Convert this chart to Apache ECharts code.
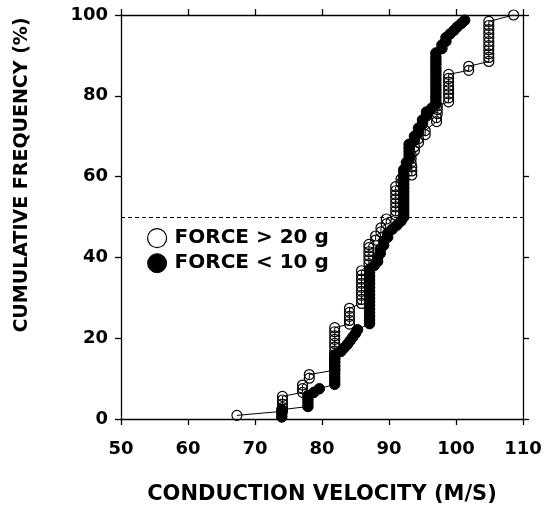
<!DOCTYPE html>
<html>
<head>
<meta charset="utf-8">
<script src="https://cdn.jsdelivr.net/npm/echarts@6/dist/echarts.min.js"></script>
<style>
html,body{margin:0;padding:0;background:#fff;}
#chart{width:548px;height:510px;}
</style>
</head>
<body>
<div id="chart"></div>
<script>
// ---- data ----
const seriesNames = ['FORCE > 20 g', 'FORCE < 10 g'];
const xAxisTitle = 'CONDUCTION VELOCITY (M/S)';
const yAxisTitle = 'CUMULATIVE FREQUENCY (%)';
const medianLine = 50;

// FORCE > 20 g (open circles): conduction velocity (m/s)
const openX = [
  67.3,
  74.1,74.1,74.1,74.1,74.1,
  77.1,77.1,77.1,
  78.1,78.1,
  81.9,81.9,81.9,81.9,81.9,81.9,81.9,81.9,81.9,81.9,81.9,81.9,
  84.1,84.1,84.1,84.1,84.1,
  85.9,85.9,85.9,85.9,85.9,85.9,85.9,85.9,85.9,
  87.0,87.0,87.0,87.0,87.0,87.0,
  88.0,88.0,
  88.8,88.8,
  89.6,89.6,
  91.0,91.0,91.0,91.0,91.0,91.0,91.0,91.0,
  91.8,91.8,
  93.4,93.4,93.4,
  93.3,93.3,93.3,
  93.8,93.8,
  94.4,94.4,
  95.4,95.4,
  97.1,97.1,
  97.2,97.2,97.2,
  98.9,98.9,98.9,98.9,98.9,98.9,98.9,98.9,
  101.9,101.9,
  104.9,104.9,104.9,104.9,104.9,104.9,104.9,104.9,104.9,104.9,104.9,
  108.6
];
// FORCE > 20 g: cumulative frequency (%)
const openY = [
  0.9,
  1.9,2.8,3.7,4.7,5.6,
  6.6,7.5,8.4,
  10.1,11.0,
  12.1,13.0,14.0,14.9,15.9,16.8,17.8,18.7,19.7,20.6,21.6,22.6,
  23.5,24.4,25.4,26.4,27.4,
  28.6,29.6,30.6,31.6,32.6,33.6,34.6,35.6,36.7,
  38.4,39.4,40.4,41.4,42.4,43.2,
  44.3,45.3,
  46.3,47.3,
  48.3,49.5,
  50.5,51.5,52.5,53.5,54.5,55.5,56.5,57.5,
  58.4,59.4,
  60.4,61.4,62.4,
  63.4,64.4,65.4,
  66.4,67.4,
  68.4,69.4,
  70.4,71.4,
  73.6,74.6,
  75.6,76.6,77.5,
  78.5,79.5,80.5,81.5,82.4,83.4,84.3,85.3,
  86.3,87.3,
  88.5,89.5,90.4,91.4,92.4,93.4,94.4,95.4,96.4,97.4,98.4,
  100
];

// FORCE < 10 g (filled circles): conduction velocity (m/s)
const filledX = [
  74.0,74.0,74.0,
  77.9,77.9,77.9,77.9,
  78.8,
  79.6,
  81.9,81.9,81.9,81.9,81.9,81.9,81.9,81.9,81.9,
  82.8,83.3,83.8,84.2,84.6,85.0,85.3,
  87.1,87.1,87.1,87.1,87.1,87.1,87.1,87.1,87.1,87.1,87.1,87.1,87.1,87.1,87.1,87.1,
  87.8,
  88.3,88.3,
  88.7,88.7,
  89.2,89.2,
  89.8,89.8,
  90.5,
  91.2,
  91.8,
  92.2,92.2,92.2,92.2,92.2,92.2,92.2,92.2,92.2,92.2,92.2,92.2,92.2,92.2,
  92.6,92.6,
  93.0,93.0,93.0,93.0,93.0,
  93.8,93.8,
  94.4,94.4,
  95.0,95.0,
  95.6,95.6,
  96.4,
  97.0,97.0,97.0,97.0,97.0,97.0,97.0,97.0,97.0,97.0,97.0,97.0,97.0,97.0,97.0,
  97.9,97.9,
  98.5,98.5,
  99.1,
  99.7,
  100.2,
  100.8,
  101.3
];
// FORCE < 10 g: cumulative frequency (%)
const filledY = [
  0.5,1.4,2.3,
  3.1,4.0,4.9,5.8,
  6.6,
  7.5,
  8.6,9.5,10.4,11.3,12.2,13.1,14.0,14.9,15.8,
  16.7,17.6,18.5,19.4,20.3,21.2,22.1,
  23.6,24.5,25.4,26.3,27.2,28.1,29.0,29.9,30.8,31.7,32.6,33.5,34.4,35.3,36.2,37.1,
  38.0,
  39.0,40.0,
  41.0,42.0,
  43.0,44.0,
  45.0,46.0,
  47.0,
  48.0,
  49.0,
  50.0,50.9,51.8,52.7,53.6,54.5,55.4,56.3,57.2,58.1,59.0,59.9,60.8,61.7,
  62.6,63.5,
  64.4,65.3,66.2,67.1,68.0,
  69.0,70.0,
  71.0,72.0,
  73.0,74.0,
  75.0,76.0,
  77.0,
  77.9,78.8,79.7,80.6,81.5,82.4,83.3,84.2,85.1,86.0,86.9,87.8,88.7,89.6,90.6,
  91.7,92.6,
  93.5,94.4,
  95.3,
  96.2,
  97.1,
  97.9,
  98.7
];

// ---- chart ----
const zip = (xs, ys) => xs.map((x, i) => [x, ys[i]]);
const FONT = 'DejaVu Sans';
const chart = echarts.init(document.getElementById('chart'), null, {renderer: 'canvas'});

const axisCommon = {
  type: 'value',
  axisLine: {show: true, onZero: false, lineStyle: {color: '#000', width: 1.3}},
  axisTick: {show: true, inside: false, length: 6, lineStyle: {color: '#000', width: 1.3}},
  splitLine: {show: false}
};

chart.setOption({
  animation: false,
  backgroundColor: '#fff',
  grid: {left: 121, right: 25, top: 15, bottom: 88, containLabel: false},
  legend: {
    orient: 'vertical',
    left: 142,
    top: 223,
    itemWidth: 19,
    itemHeight: 19,
    itemGap: 5,
    selectedMode: false,
    textStyle: {fontFamily: FONT, fontWeight: 'bold', fontSize: 20, color: '#000', padding: [0, 0, 0, 3]},
    data: [
      {name: seriesNames[0], icon: 'circle', itemStyle: {color: '#fff', borderColor: '#000', borderWidth: 1.2}},
      {name: seriesNames[1], icon: 'circle', itemStyle: {color: '#000', borderColor: '#000', borderWidth: 1}}
    ]
  },
  xAxis: [
    Object.assign({}, axisCommon, {
      position: 'bottom', min: 50, max: 110, interval: 10,
      name: xAxisTitle, nameLocation: 'middle', nameGap: 65,
      nameTextStyle: {fontFamily: FONT, fontWeight: 'bold', fontSize: 21, color: '#000'},
      axisLabel: {margin: 21, fontFamily: FONT, fontWeight: 'bold', fontSize: 18, color: '#000'}
    }),
    Object.assign({}, axisCommon, {
      position: 'top', min: 50, max: 110, interval: 10,
      axisLabel: {show: false}
    })
  ],
  yAxis: [
    Object.assign({}, axisCommon, {
      position: 'left', min: 0, max: 100, interval: 20,
      name: yAxisTitle, nameLocation: 'middle', nameGap: 89, nameRotate: 90,
      nameTextStyle: {fontFamily: FONT, fontWeight: 'bold', fontSize: 19, color: '#000', padding: [0, 0, 0, 84]},
      axisLabel: {margin: 13, fontFamily: FONT, fontWeight: 'bold', fontSize: 18, color: '#000'}
    }),
    Object.assign({}, axisCommon, {
      position: 'right', min: 0, max: 100, interval: 20,
      axisLabel: {show: false}
    })
  ],
  series: [
    {
      name: seriesNames[0],
      type: 'line',
      xAxisIndex: 0, yAxisIndex: 0,
      data: zip(openX, openY),
      symbol: 'circle',
      symbolSize: 10,
      showAllSymbol: true,
      z: 2,
      lineStyle: {color: '#000', width: 1},
      itemStyle: {color: 'rgba(255,255,255,0)', borderColor: '#000', borderWidth: 1.2},
      markLine: {
        silent: true,
        symbol: 'none',
        label: {show: false},
        lineStyle: {color: '#000', width: 1, type: [4, 3]},
        data: [{yAxis: medianLine}]
      }
    },
    {
      name: seriesNames[1],
      type: 'line',
      xAxisIndex: 0, yAxisIndex: 0,
      data: zip(filledX, filledY),
      symbol: 'circle',
      symbolSize: 10.5,
      showAllSymbol: true,
      z: 3,
      lineStyle: {color: '#000', width: 1},
      itemStyle: {color: '#000', borderColor: '#000', borderWidth: 1}
    }
  ]
});
</script>
</body>
</html>
